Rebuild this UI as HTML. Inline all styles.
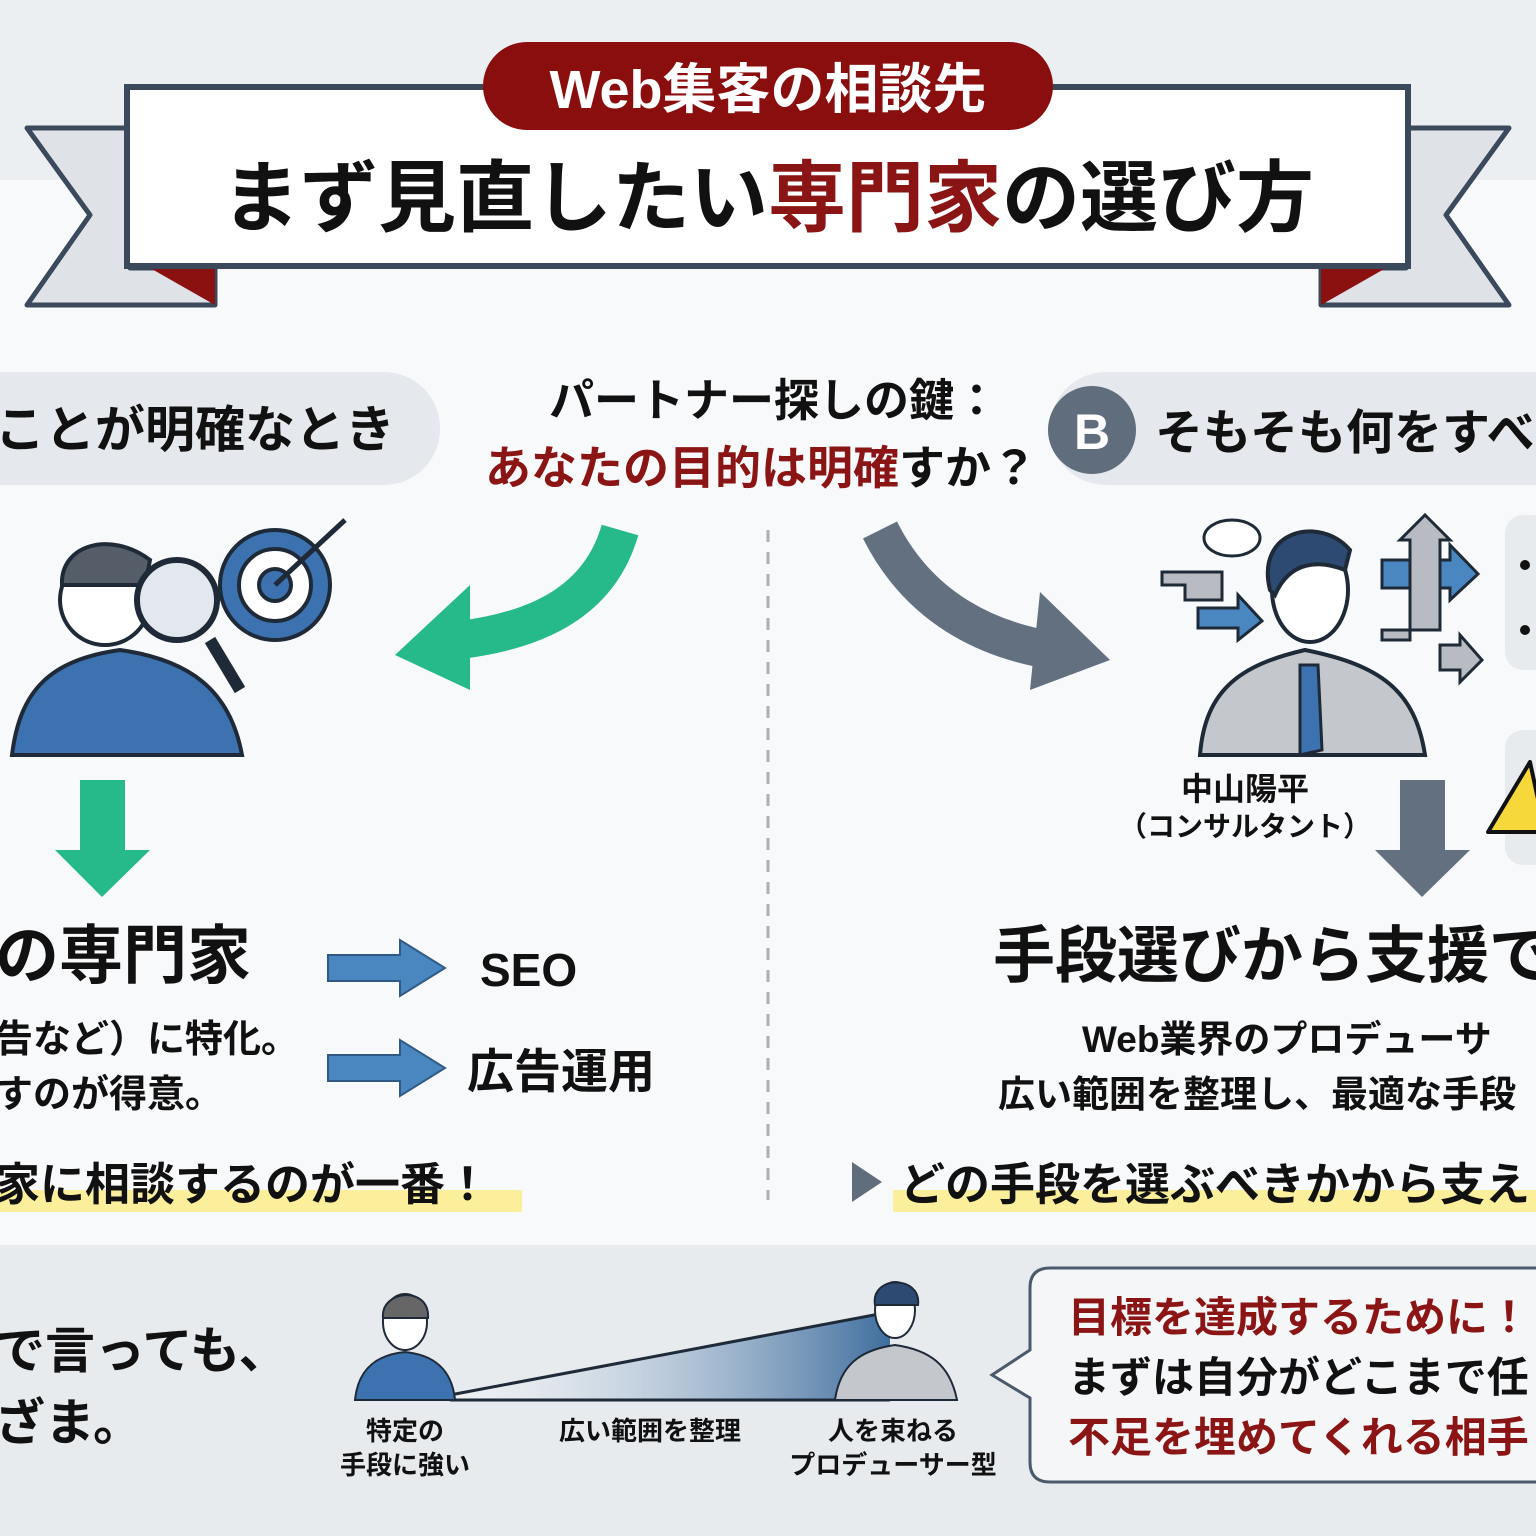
<!DOCTYPE html>
<html><head><meta charset="utf-8"><style>
html,body{margin:0;padding:0;background:#f8f9fa}
svg{display:block}
text{font-family:"Liberation Sans","Noto Sans CJK JP",sans-serif;font-weight:700}
</style></head><body>
<svg width="1536" height="1536" viewBox="0 0 1536 1536" xmlns="http://www.w3.org/2000/svg">
<defs>
<linearGradient id="wg" x1="0" x2="1" y1="0" y2="0">
<stop offset="0" stop-color="#ffffff" stop-opacity="0.3"/><stop offset="1" stop-color="#3f6e9e"/></linearGradient>
</defs>
<rect x="0" y="0" width="1536" height="180" fill="#eceff2"/>
<rect x="0" y="180" width="1536" height="1065" fill="#f8f9fa"/>
<rect x="0" y="1245" width="1536" height="291" fill="#e8ebee"/>

<polygon points="27,128 130,128 130,268 215,268 215,305 27,305 90,215" fill="#dfe3e8" stroke="#3a4a5c" stroke-width="5" stroke-linejoin="round"/>
<polygon points="150,268 215,268 215,305" fill="#8b1010"/>
<polygon points="1509,128 1406,128 1406,268 1321,268 1321,305 1509,305 1446,215" fill="#dfe3e8" stroke="#3a4a5c" stroke-width="5" stroke-linejoin="round"/>
<polygon points="1386,268 1321,268 1321,305" fill="#8b1010"/>
<rect x="127" y="87" width="1281" height="179" fill="#fff" stroke="#3a4a5c" stroke-width="6"/>
<rect x="483" y="42" width="570" height="88" rx="44" fill="#8b0e0e"/>
<text x="768" y="108" font-size="54" fill="#fff" text-anchor="middle">Web集客の相談先</text>
<text x="768" y="225" font-size="78" fill="#111" text-anchor="middle">まず見直したい<tspan fill="#8b1414">専門家</tspan>の選び方</text>

<rect x="-60" y="372" width="500" height="113" rx="56" fill="#e5e8ec"/>
<text x="-5" y="447" font-size="50" fill="#111">ことが明確なとき</text>
<rect x="1050" y="372" width="560" height="113" rx="56" fill="#e5e8ec"/>
<circle cx="1092" cy="430" r="44" fill="#5f6d7d"/>
<text x="1092" y="449" font-size="50" fill="#fff" text-anchor="middle">B</text>
<text x="1155" y="449" font-size="48" fill="#111">そもそも何をすべ</text>
<text x="774" y="416" font-size="45" fill="#111" text-anchor="middle">パートナー探しの鍵：</text>
<text x="761" y="484" font-size="46" fill="#8b1414" text-anchor="middle">あなたの目的は明確<tspan fill="#111">すか？</tspan></text>

<path d="M620,530 C600,600 540,630 460,640" stroke="#26b98a" stroke-width="38" fill="none"/>
<polygon points="395,655 470,585 470,690" fill="#26b98a"/>
<path d="M880,530 C920,610 990,640 1050,650" stroke="#627080" stroke-width="38" fill="none"/>
<polygon points="1110,660 1040,592 1030,690" fill="#627080"/>
<line x1="768" y1="530" x2="768" y2="1200" stroke="#aab0b8" stroke-width="3" stroke-dasharray="12,10"/>

<path d="M12,755 C20,690 50,660 120,650 C190,660 230,690 242,755 Z" fill="#3d72b0" stroke="#1e2a38" stroke-width="4"/>
<circle cx="105" cy="600" r="45" fill="#fff" stroke="#1e2a38" stroke-width="4"/>
<path d="M62,585 C60,545 110,530 150,560 L145,585 Z" fill="#555e68" stroke="#1e2a38" stroke-width="4"/>
<circle cx="275" cy="585" r="55" fill="#3d72b0" stroke="#1e2a38" stroke-width="4"/>
<circle cx="275" cy="585" r="36" fill="#fff" stroke="#1e2a38" stroke-width="4"/>
<circle cx="275" cy="585" r="16" fill="#3d72b0" stroke="#1e2a38" stroke-width="4"/>
<line x1="275" y1="585" x2="345" y2="520" stroke="#1e2a38" stroke-width="5"/>
<line x1="210" y1="640" x2="240" y2="690" stroke="#1e2a38" stroke-width="12"/>
<circle cx="177" cy="600" r="40" fill="#e3e8ee" stroke="#1e2a38" stroke-width="6"/>

<polygon points="80,780 125,780 125,850 150,850 102,897 55,850 80,850" fill="#26b98a"/>
<text x="-5" y="978" font-size="64" fill="#111">の専門家</text>
<text x="-5" y="1052" font-size="38" fill="#111">告など）に特化。</text>
<text x="-5" y="1107" font-size="38" fill="#111">すのが得意。</text>
<polygon points="328,955 400,955 400,940 445,968 400,996 400,981 328,981" fill="#4a86c0" stroke="#2f5a86" stroke-width="2"/>
<polygon points="328,1055 400,1055 400,1040 445,1068 400,1096 400,1081 328,1081" fill="#4a86c0" stroke="#2f5a86" stroke-width="2"/>
<text x="480" y="986" font-size="46" fill="#111">SEO</text>
<text x="467" y="1088" font-size="47" fill="#111">広告運用</text>
<rect x="0" y="1190" width="522" height="22" fill="#fbef9c"/>
<text x="-5" y="1200" font-size="45" fill="#111">家に相談するのが一番！</text>

<path d="M1200,755 C1205,690 1240,665 1305,650 C1380,665 1415,690 1425,755 Z" fill="#c4c8cd" stroke="#1e2a38" stroke-width="4"/>
<polygon points="1300,665 1318,665 1322,750 1300,755" fill="#3d72b0" stroke="#1e2a38" stroke-width="3"/>
<ellipse cx="1310" cy="590" rx="38" ry="52" fill="#fff" stroke="#1e2a38" stroke-width="4"/>
<path d="M1270,590 C1255,530 1320,515 1350,550 L1345,570 C1320,560 1290,560 1275,595 Z" fill="#2c4a72" stroke="#1e2a38" stroke-width="4"/>
<ellipse cx="1232" cy="538" rx="28" ry="18" fill="#fff" stroke="#1e2a38" stroke-width="3"/>
<polygon points="1222,572 1162,572 1162,585 1185,585 1185,600 1222,600" fill="#b8bcc2" stroke="#1e2a38" stroke-width="3"/>
<polygon points="1198,608 1238,608 1238,595 1262,621 1238,640 1238,628 1198,628" fill="#4a86c0" stroke="#1e2a38" stroke-width="3"/>
<polygon points="1382,560 1450,560 1450,545 1478,574 1450,600 1450,588 1382,588" fill="#4a86c0" stroke="#1e2a38" stroke-width="3"/>
<polygon points="1410,640 1410,540 1400,540 1425,515 1450,540 1440,540 1440,630 1382,630 1382,640" fill="#b8bcc2" stroke="#1e2a38" stroke-width="3"/>
<polygon points="1440,645 1460,645 1460,635 1482,660 1460,682 1460,670 1440,670" fill="#b8bcc2" stroke="#1e2a38" stroke-width="3"/>
<rect x="1505" y="515" width="60" height="155" rx="18" fill="#e8ebee"/>
<circle cx="1525" cy="565" r="5" fill="#111"/><circle cx="1525" cy="630" r="5" fill="#111"/>
<rect x="1505" y="730" width="60" height="135" rx="18" fill="#e8ebee"/>
<polygon points="1488,832 1530,762 1545,832" fill="#f6d83a" stroke="#111" stroke-width="4" stroke-linejoin="round"/>
<text x="1245" y="800" font-size="32" fill="#111" text-anchor="middle">中山陽平</text>
<text x="1245" y="836" font-size="28" fill="#111" text-anchor="middle">（コンサルタント）</text>
<polygon points="1400,780 1445,780 1445,850 1470,850 1422,897 1375,850 1400,850" fill="#627080"/>
<text x="993" y="977" font-size="62" fill="#111">手段選びから支援で</text>
<text x="1082" y="1052" font-size="37" fill="#111">Web業界のプロデューサ</text>
<text x="998" y="1107" font-size="37" fill="#111">広い範囲を整理し、最適な手段</text>
<polygon points="852,1162 882,1182 852,1202" fill="#5f6d7d"/>
<rect x="893" y="1190" width="660" height="22" fill="#fbef9c"/>
<text x="900" y="1200" font-size="45" fill="#111">どの手段を選ぶべきかから支え</text>

<text x="-5" y="1368" font-size="50" fill="#111">で言っても、</text>
<text x="-5" y="1440" font-size="50" fill="#111">ざま。</text>
<polygon points="450,1395 890,1312 890,1400 450,1400" fill="url(#wg)"/>
<line x1="450" y1="1395" x2="890" y2="1312" stroke="#1e2a38" stroke-width="3"/>
<line x1="450" y1="1400" x2="890" y2="1400" stroke="#1e2a38" stroke-width="3"/>
<path d="M355,1400 C358,1370 375,1355 405,1352 C435,1355 452,1370 455,1400 Z" fill="#3d72b0" stroke="#1e2a38" stroke-width="2"/>
<ellipse cx="405" cy="1322" rx="22" ry="28" fill="#fff" stroke="#1e2a38" stroke-width="2"/>
<path d="M383,1318 C380,1290 430,1285 428,1318 Z" fill="#666" stroke="#1e2a38" stroke-width="2"/>
<path d="M835,1400 C840,1365 860,1350 895,1345 C930,1350 950,1365 957,1400 Z" fill="#c4c8cd" stroke="#1e2a38" stroke-width="2"/>
<ellipse cx="895" cy="1310" rx="20" ry="28" fill="#fff" stroke="#1e2a38" stroke-width="2"/>
<path d="M875,1305 C870,1275 922,1275 918,1305 Z" fill="#2c4a72" stroke="#1e2a38" stroke-width="2"/>
<text x="405" y="1440" font-size="26" fill="#111" text-anchor="middle">特定の</text>
<text x="405" y="1474" font-size="26" fill="#111" text-anchor="middle">手段に強い</text>
<text x="650" y="1440" font-size="26" fill="#111" text-anchor="middle">広い範囲を整理</text>
<text x="893" y="1440" font-size="26" fill="#111" text-anchor="middle">人を束ねる</text>
<text x="893" y="1474" font-size="26" fill="#111" text-anchor="middle">プロデューサー型</text>
<path d="M1050,1268 L1560,1268 L1560,1482 L1050,1482 Q1030,1482 1030,1462 L1030,1398 L992,1375 L1030,1350 L1030,1288 Q1030,1268 1050,1268 Z" fill="#f5f6f8" stroke="#4a5a6c" stroke-width="3"/>
<text x="1068" y="1332" font-size="42" fill="#8b1414">目標を達成するために！</text>
<text x="1068" y="1392" font-size="42" fill="#111">まずは自分がどこまで任</text>
<text x="1068" y="1452" font-size="42" fill="#8b1414">不足を埋めてくれる相手</text>
</svg>
</body></html>
